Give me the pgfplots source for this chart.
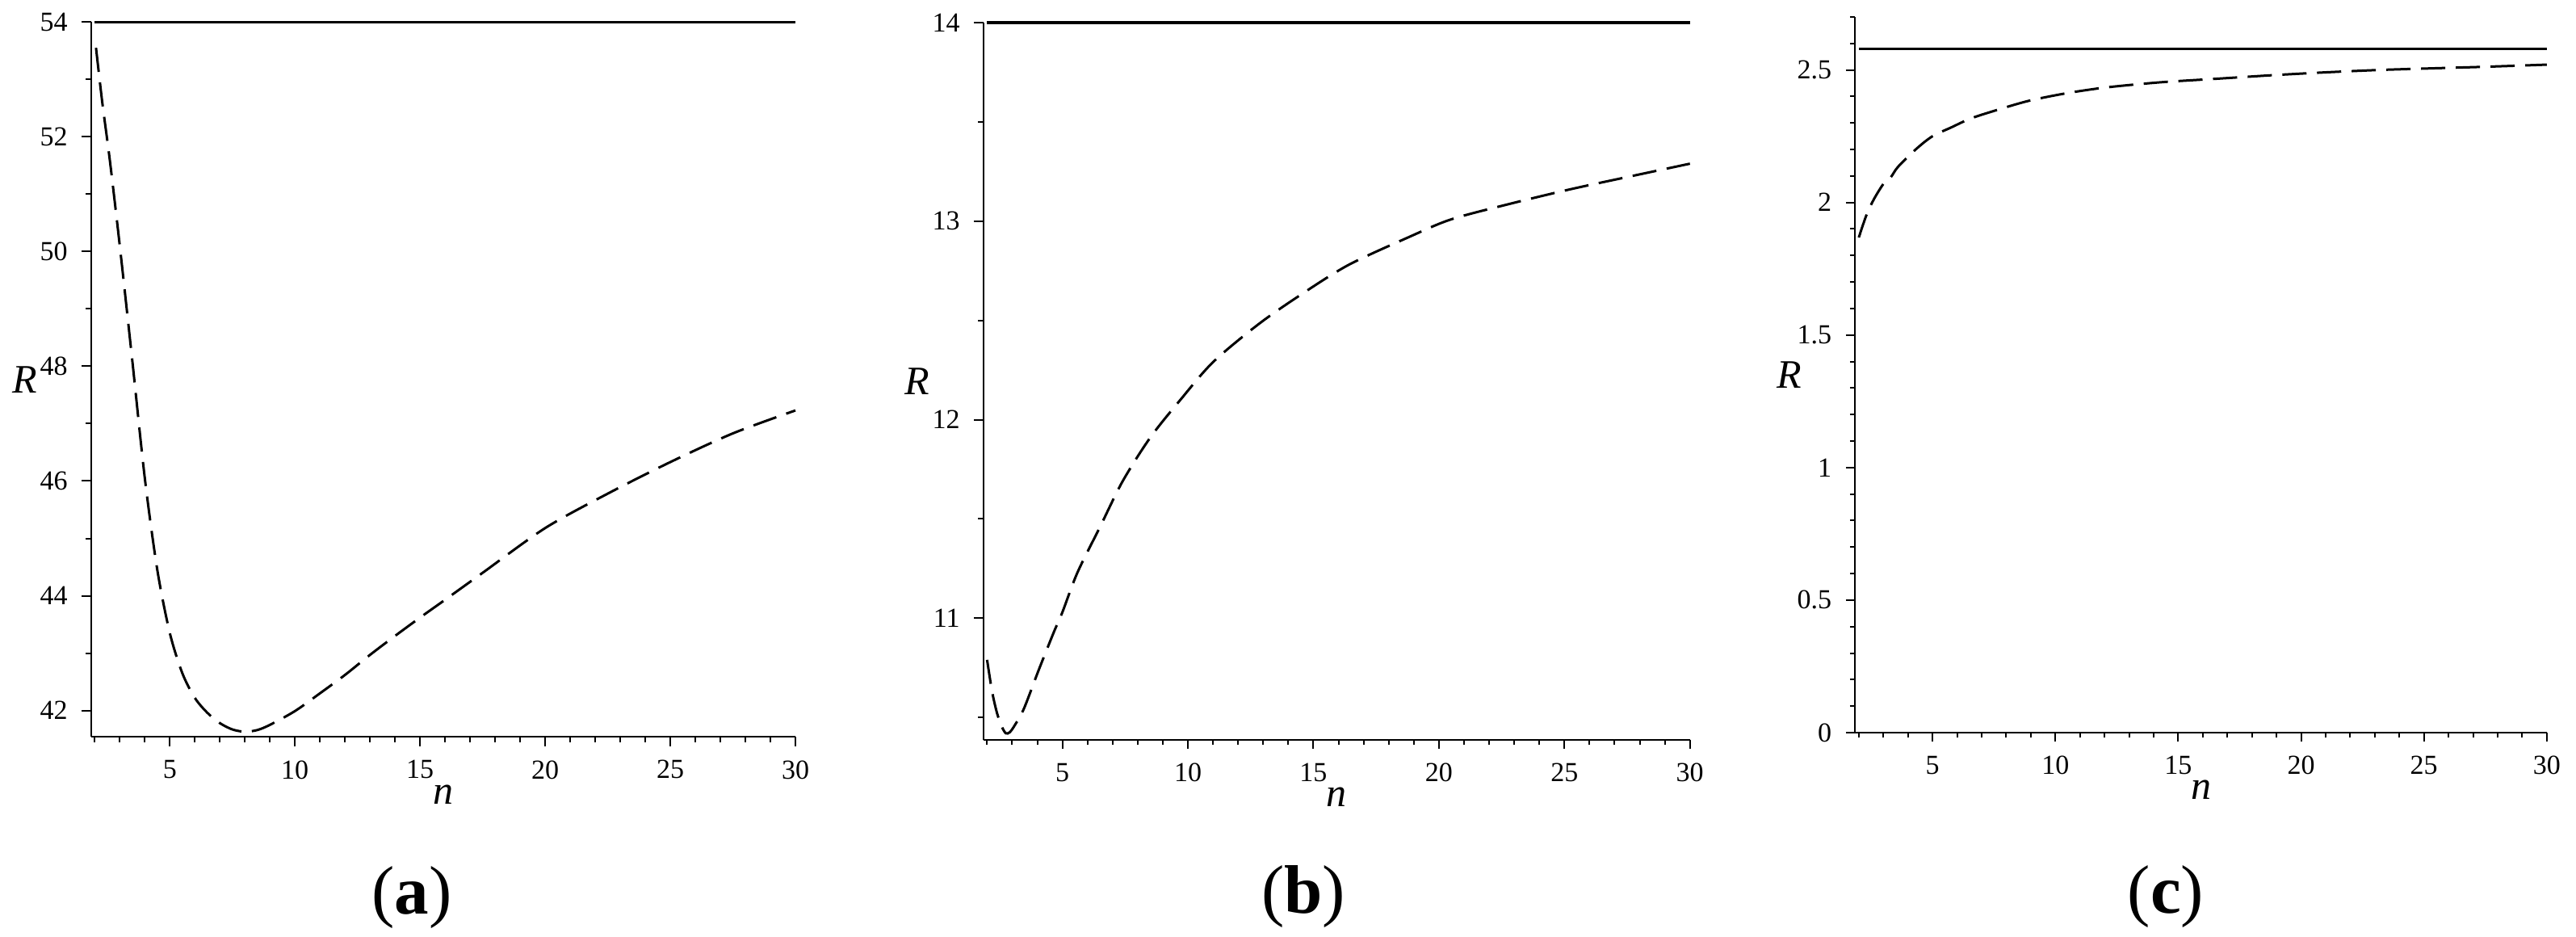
\documentclass[border=0pt]{standalone}
\usepackage{fontspec}
\setmainfont{Liberation Serif}
\usepackage{pgfplots}
\pgfplotsset{compat=1.18}
\pgfplotsset{
  myax/.style={
    scale only axis,
    anchor=south west,
    clip=false,
    axis x line*=bottom,
    axis y line*=left,
    axis line style={line width=0.4pt,-},
    tick align=outside,
    major tick length=2.3pt,
    minor tick length=1.3pt,
    every tick/.style={black,line width=0.4pt},
    xmin=1.85, xmax=30,
    xtick={5,10,15,20,25,30},
    minor xtick={2,3,...,30},
    ticklabel style={font=\fontsize{6.8}{8}\selectfont},
    /pgf/number format/assume math mode=true,
    xlabel={\textit{n}},
    ylabel={\textit{R}},
    label style={font=\fontsize{7}{8}\selectfont},
    every axis x label/.style={at={(axis description cs:0.5,0)},yshift=-14.2pt,anchor=center},
    every axis y label/.style={at={(axis description cs:0,0.5)},xshift=-16.4pt,anchor=center},
  },
  solidref/.style={black,line width=0.7pt},
  dashcurve/.style={black,line width=0.6pt,dash pattern=on 6pt off 2.6pt,smooth,tension=0.5},
}
\begin{document}
\begin{tikzpicture}[x=1pt,y=1pt]
\path[use as bounding box] (0,0) rectangle (638,232);

% (a)
\begin{axis}[myax, at={(22.54pt,49.54pt)}, width=174.46pt, height=177pt,
  ymin=41.54, ymax=54,
  ytick={42,44,46,48,50,52,54},
  minor ytick={43,45,47,49,51,53}]
\addplot[solidref] coordinates {(2,54) (30,54)};
\addplot[dashcurve] coordinates {
(2.05,53.55) (2.3,52.6) (2.6,51.6) (3.0,50.1) (3.5,48.1) (4.0,46.05) (4.5,44.45)
(5.0,43.35) (5.5,42.65) (6.0,42.22) (6.5,41.96) (7.0,41.78) (7.5,41.67) (8.0,41.63)
(8.5,41.66) (9.0,41.75) (10.0,41.99) (11.0,42.3) (12.0,42.62) (13.0,42.97) (14.0,43.3)
(15.0,43.62) (16.0,43.93) (17.5,44.4) (20.0,45.18) (22.5,45.78) (25.0,46.33)
(27.5,46.83) (30.0,47.23)};
\end{axis}

% (b)
\begin{axis}[myax, at={(243.54pt,48.86pt)}, width=175pt, height=177.5pt,
  ymin=10.388, ymax=14,
  ytick={11,12,13,14},
  minor ytick={10.5,11.5,12.5,13.5}]
\addplot[solidref] coordinates {(2,14) (30,14)};
\addplot[dashcurve] coordinates {
(2.0,10.79) (2.2,10.63) (2.4,10.52) (2.6,10.45) (2.75,10.42) (2.9,10.425) (3.1,10.46)
(3.47,10.545) (4.06,10.74) (4.66,10.93) (5.0,11.03) (5.6,11.23) (6.5,11.46) (7.4,11.69)
(8.5,11.91) (9.7,12.1) (11.0,12.29) (12.8,12.48) (14.5,12.63) (16.4,12.78) (18.8,12.92)
(20.5,13.01) (22.9,13.09) (25.2,13.16) (27.4,13.22) (30.0,13.29)};
\end{axis}

% (c)
\begin{axis}[myax, at={(459.46pt,50.6pt)}, width=171.3pt, height=177.2pt,
  ymin=0, ymax=2.7,
  ytick={0,0.5,1,1.5,2,2.5},
  minor ytick={0.1,0.2,...,2.71}]
\addplot[solidref] coordinates {(2,2.58) (30,2.58)};
\addplot[dashcurve] coordinates {
(2.0,1.868) (2.3,1.95) (2.6,2.01) (3.0,2.07) (3.3,2.095) (3.6,2.135) (4.35,2.203)
(5.0,2.25) (5.78,2.284) (6.5,2.315) (7.31,2.34) (8.85,2.382) (10.38,2.411) (11.8,2.431)
(13.0,2.443) (14.5,2.455) (16.6,2.467) (18.8,2.48) (21.0,2.491) (23.2,2.5) (25.3,2.506)
(27.5,2.512) (30.0,2.52)};
\end{axis}

\node[font=\fontsize{17}{20}\selectfont] at (102,9.8) {(\textbf{a})};
\node[font=\fontsize{17}{20}\selectfont] at (322.8,10) {(\textbf{b})};
\node[font=\fontsize{17}{20}\selectfont] at (536.4,10) {(\textbf{c})};
\end{tikzpicture}
\end{document}
